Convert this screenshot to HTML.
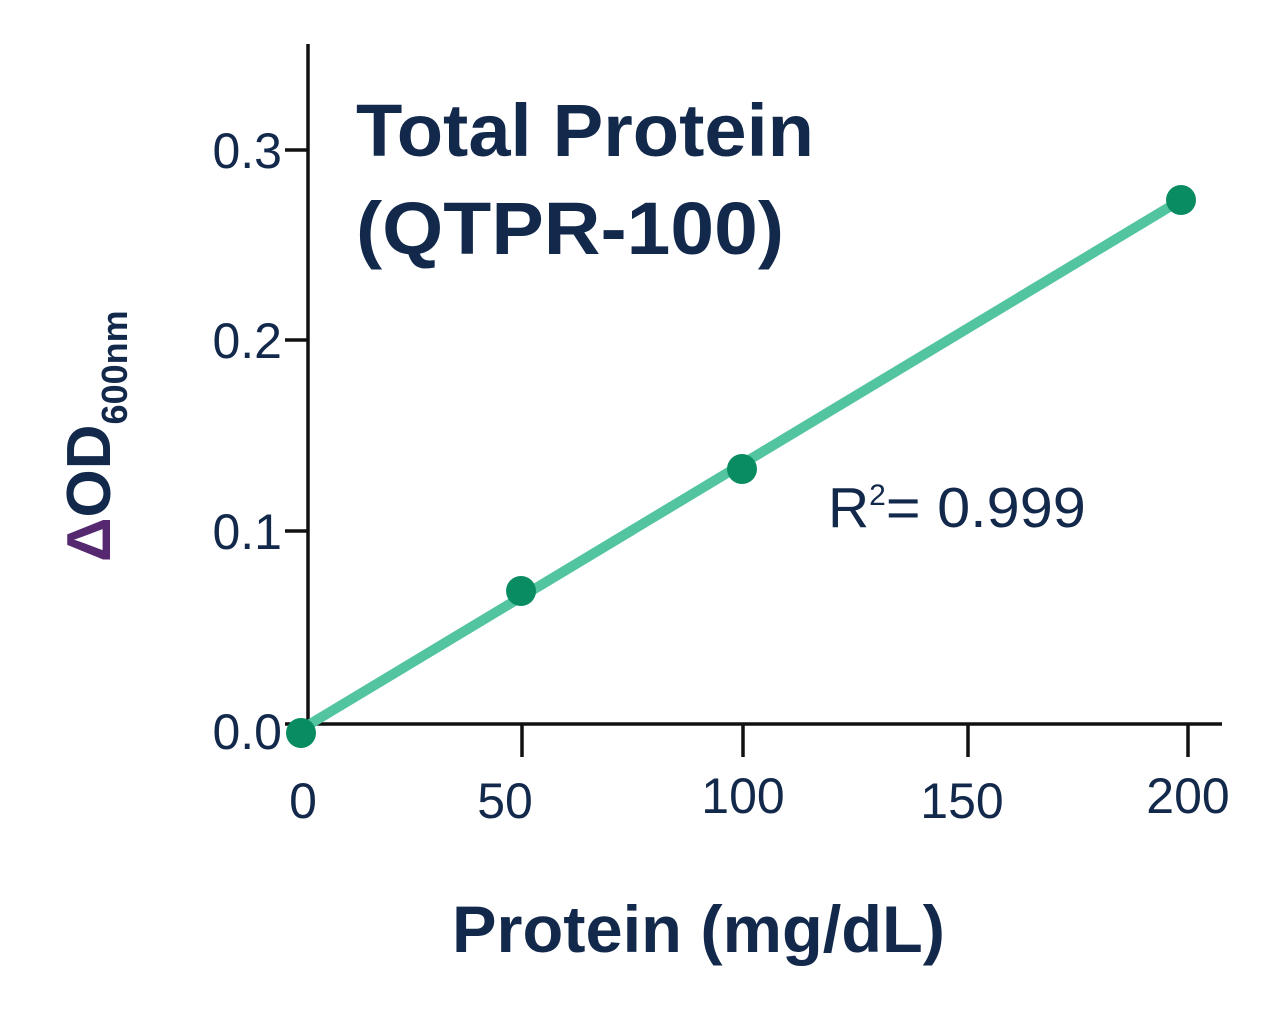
<!DOCTYPE html>
<html><head><meta charset="utf-8"><style>
html,body{margin:0;padding:0;background:#fff;}
</style></head><body>
<svg width="1280" height="1024" viewBox="0 0 1280 1024" xmlns="http://www.w3.org/2000/svg" font-family="'Liberation Sans', sans-serif">
<rect width="1280" height="1024" fill="#fff"/>
<g stroke="#111" stroke-width="3.5" fill="none">
<line x1="308" y1="44" x2="308" y2="742"/>
<line x1="285" y1="724" x2="1222" y2="724"/>
<line x1="285" y1="150" x2="308" y2="150"/>
<line x1="285" y1="340" x2="308" y2="340"/>
<line x1="285" y1="531" x2="308" y2="531"/>
<line x1="522" y1="724" x2="522" y2="757"/>
<line x1="743" y1="724" x2="743" y2="757"/>
<line x1="968" y1="724" x2="968" y2="757"/>
<line x1="1188" y1="724" x2="1188" y2="757"/>
</g>
<g fill="#13294b" font-size="50" text-anchor="end">
<text x="282" y="168">0.3</text>
<text x="282" y="358">0.2</text>
<text x="282" y="549">0.1</text>
<text x="282" y="749">0.0</text>
</g>
<g fill="#13294b" font-size="50" text-anchor="middle">
<text x="303" y="818">0</text>
<text x="505" y="818">50</text>
<text x="743" y="813">100</text>
<text x="962" y="818">150</text>
<text x="1188" y="813">200</text>
</g>
<line x1="305" y1="727" x2="1181" y2="200" stroke="#52c4a0" stroke-width="10" stroke-linecap="round"/>
<g fill="#0a8c62">
<circle cx="301" cy="733" r="15"/>
<circle cx="521" cy="591" r="15"/>
<circle cx="742" cy="469" r="15"/>
<circle cx="1181" cy="200" r="15"/>
</g>
<g fill="#13294b" font-weight="bold" font-size="74">
<text x="356" y="156" textLength="458" lengthAdjust="spacingAndGlyphs">Total Protein</text>
<text x="356" y="254" textLength="428" lengthAdjust="spacingAndGlyphs">(QTPR-100)</text>
</g>
<text x="828" y="527" fill="#13294b" font-size="57">R<tspan font-size="30" dy="-22">2</tspan><tspan dy="22" textLength="200" lengthAdjust="spacingAndGlyphs">= 0.999</tspan></text>
<text x="452" y="952" fill="#13294b" font-size="66" font-weight="bold" textLength="493" lengthAdjust="spacingAndGlyphs">Protein (mg/dL)</text>
<text transform="translate(110,562) rotate(-90)" font-weight="bold" font-size="62" fill="#13294b"><tspan fill="#55286f">Δ</tspan>OD<tspan font-size="36" dy="17">600nm</tspan></text>
</svg>
</body></html>
